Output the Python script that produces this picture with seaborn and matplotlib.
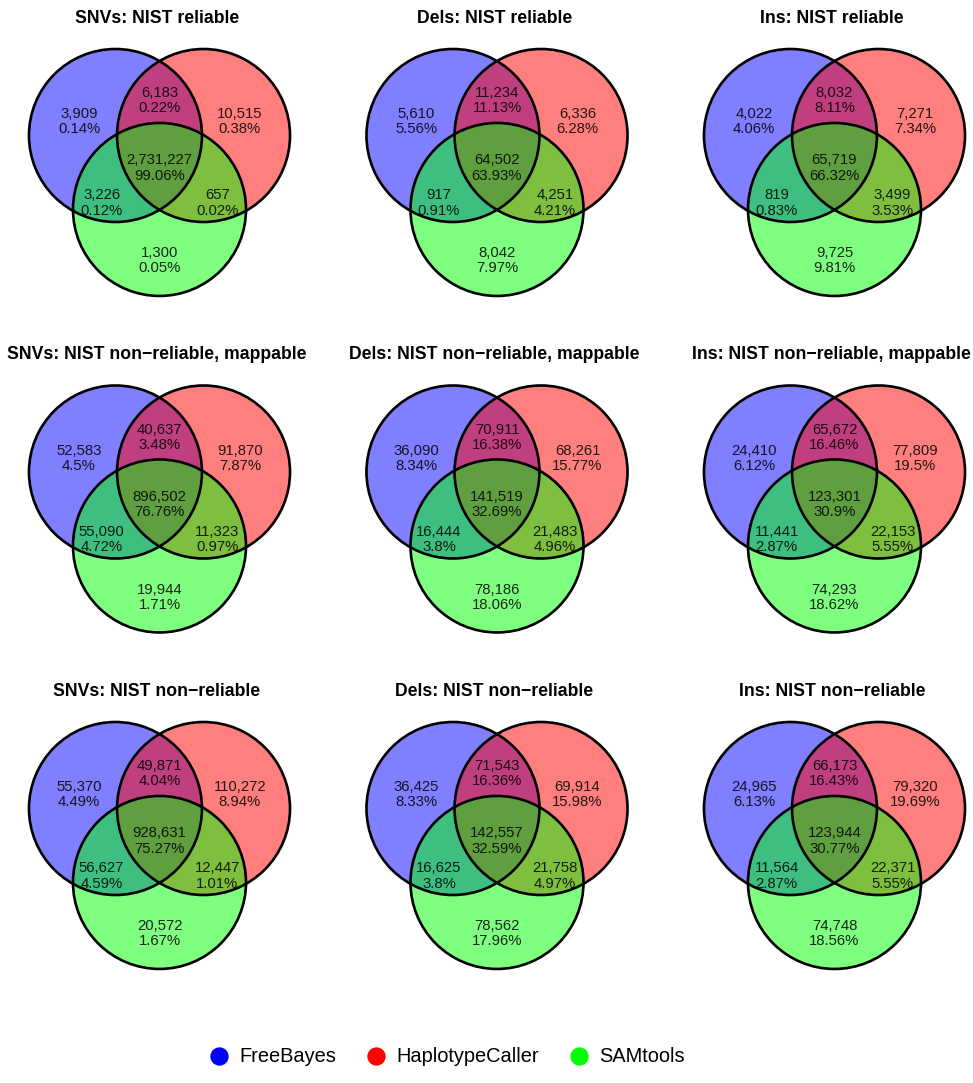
import matplotlib
matplotlib.use("Agg")
import matplotlib.pyplot as plt
from matplotlib.patches import Circle
from matplotlib.lines import Line2D
import seaborn as sns

# Callers compared in every panel
tools = ["FreeBayes", "HaplotypeCaller", "SAMtools"]
tool_colors = ["#0000FF", "#FF0000", "#00FF00"]

titles = [
    "SNVs: NIST reliable", "Dels: NIST reliable", "Ins: NIST reliable",
    "SNVs: NIST non\u2212reliable, mappable", "Dels: NIST non\u2212reliable, mappable",
    "Ins: NIST non\u2212reliable, mappable",
    "SNVs: NIST non\u2212reliable", "Dels: NIST non\u2212reliable", "Ins: NIST non\u2212reliable",
]

# Region order: FB only, FB&HC, HC only, all three, FB&SAM, HC&SAM, SAM only
snv_reliable_n = [3909, 6183, 10515, 2731227, 3226, 657, 1300]
snv_reliable_pct = [0.14, 0.22, 0.38, 99.06, 0.12, 0.02, 0.05]
del_reliable_n = [5610, 11234, 6336, 64502, 917, 4251, 8042]
del_reliable_pct = [5.56, 11.13, 6.28, 63.93, 0.91, 4.21, 7.97]
ins_reliable_n = [4022, 8032, 7271, 65719, 819, 3499, 9725]
ins_reliable_pct = [4.06, 8.11, 7.34, 66.32, 0.83, 3.53, 9.81]

snv_mappable_n = [52583, 40637, 91870, 896502, 55090, 11323, 19944]
snv_mappable_pct = [4.5, 3.48, 7.87, 76.76, 4.72, 0.97, 1.71]
del_mappable_n = [36090, 70911, 68261, 141519, 16444, 21483, 78186]
del_mappable_pct = [8.34, 16.38, 15.77, 32.69, 3.8, 4.96, 18.06]
ins_mappable_n = [24410, 65672, 77809, 123301, 11441, 22153, 74293]
ins_mappable_pct = [6.12, 16.46, 19.5, 30.9, 2.87, 5.55, 18.62]

snv_nonrel_n = [55370, 49871, 110272, 928631, 56627, 12447, 20572]
snv_nonrel_pct = [4.49, 4.04, 8.94, 75.27, 4.59, 1.01, 1.67]
del_nonrel_n = [36425, 71543, 69914, 142557, 16625, 21758, 78562]
del_nonrel_pct = [8.33, 16.36, 15.98, 32.59, 3.8, 4.97, 17.96]
ins_nonrel_n = [24965, 66173, 79320, 123944, 11564, 22371, 74748]
ins_nonrel_pct = [6.13, 16.43, 19.69, 30.77, 2.87, 5.55, 18.56]

panel_counts = [snv_reliable_n, del_reliable_n, ins_reliable_n,
                snv_mappable_n, del_mappable_n, ins_mappable_n,
                snv_nonrel_n, del_nonrel_n, ins_nonrel_n]
panel_pcts = [snv_reliable_pct, del_reliable_pct, ins_reliable_pct,
              snv_mappable_pct, del_mappable_pct, ins_mappable_pct,
              snv_nonrel_pct, del_nonrel_pct, ins_nonrel_pct]

sns.set_theme(style="white")
plt.rcParams["font.family"] = ["Liberation Sans", "DejaVu Sans"]
palette = sns.color_palette(tool_colors)

W, H = 973, 1083
fig = plt.figure(figsize=(W / 100, H / 100), dpi=100)
fig.patch.set_facecolor("white")

R = 86.5  # circle radius in pixels
circle_centers = [(-0.509, 0.0), (0.509, 0.0), (0.0, -0.855)]
label_xy = [(-0.93, 0.16), (0.0, 0.40), (0.93, 0.16), (0.0, -0.376),
            (-0.67, -0.78), (0.67, -0.78), (0.0, -1.45)]

left_px, right_px, up_px, down_px = 168, 168, 135, 170

for k in range(9):
    row, col = divmod(k, 3)
    cx = 159.5 + 337.5 * col
    cy = 135.5 + 336.5 * row
    rect = [(cx - left_px) / W, 1 - (cy + down_px) / H,
            (left_px + right_px) / W, (up_px + down_px) / H]
    ax = fig.add_axes(rect)
    ax.set_xlim(-left_px / R, right_px / R)
    ax.set_ylim(-down_px / R, up_px / R)
    ax.axis("off")

    for (x0, y0), c in zip(circle_centers, palette):
        ax.add_patch(Circle((x0, y0), 1.0, facecolor=c, alpha=0.5,
                            edgecolor="none", zorder=1))
    for (x0, y0) in circle_centers:
        ax.add_patch(Circle((x0, y0), 1.0, fill=False, edgecolor="black",
                            linewidth=1.9, zorder=3))

    for (lx, ly), n, p in zip(label_xy, panel_counts[k], panel_pcts[k]):
        ax.text(lx, ly, f"{n:,}\n{p:g}%", ha="center", va="center",
                fontsize=10.7, color="black", alpha=0.85, linespacing=1.1,
                zorder=4)

    ax.text(-0.03, 117.5 / R, titles[k], ha="center", va="center",
            fontsize=12.7, fontweight="bold", color="black")

handles = [Line2D([], [], marker="o", linestyle="", markersize=12.2,
                  markerfacecolor=c, markeredgecolor=c) for c in palette]
fig.legend(handles, tools, loc="center",
           bbox_to_anchor=(447 / W, 1 - 1057 / H), ncol=3, frameon=False,
           fontsize=14.4, handlelength=1.0, handletextpad=0.5,
           columnspacing=1.5, labelcolor="black")

fig.savefig("out.png", dpi=100, facecolor="white")
